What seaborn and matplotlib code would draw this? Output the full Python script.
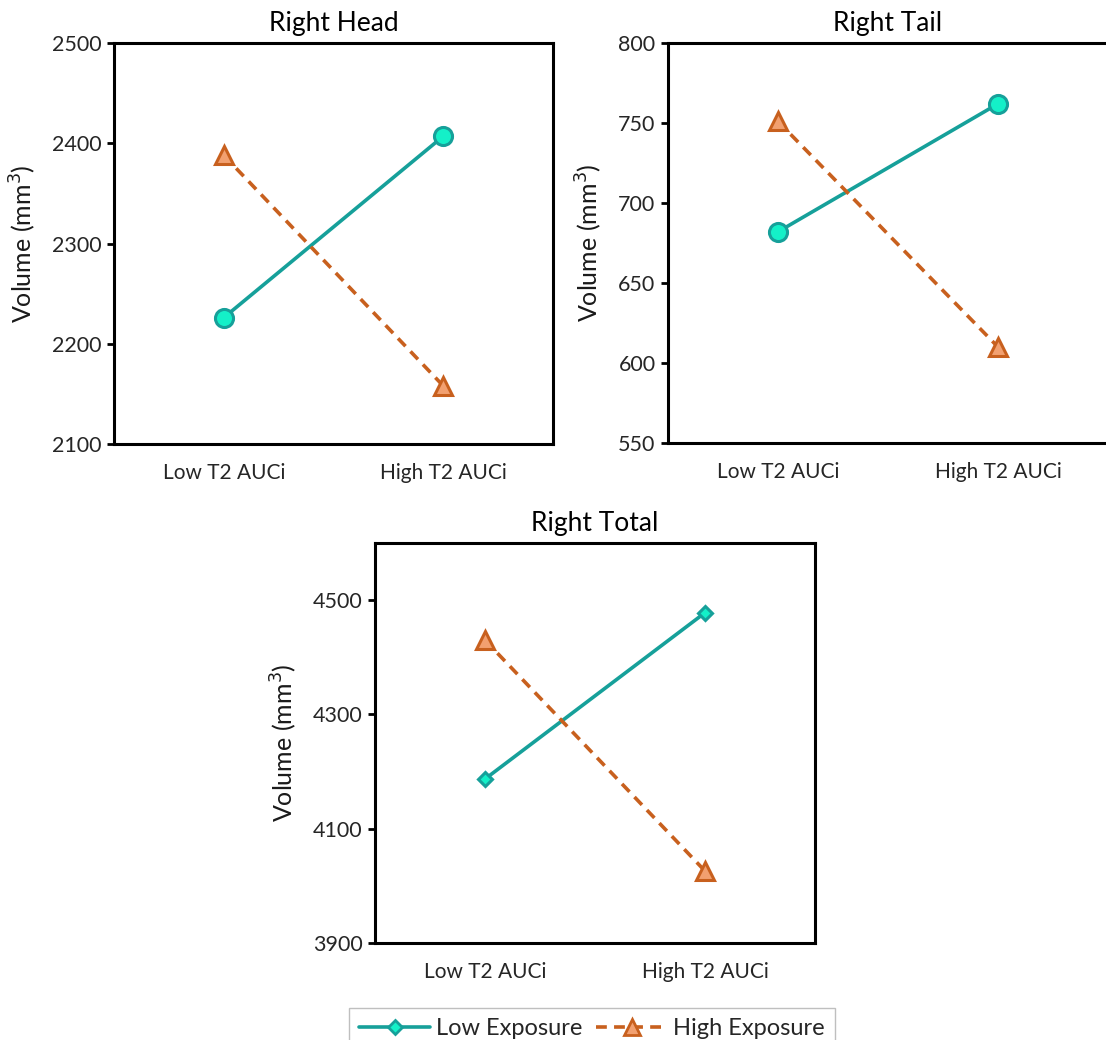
import numpy as np
import pandas as pd
import matplotlib.pyplot as plt
import seaborn as sns
from matplotlib.lines import Line2D

sns.set_theme(style='white')
plt.rcParams['font.family'] = ['Lato', 'DejaVu Sans']

# data
groups = ['Low T2 AUCi', 'High T2 AUCi']
head_low_exp = [2226, 2407]
head_high_exp = [2388, 2158]
tail_low_exp = [682, 762]
tail_high_exp = [751, 610]
total_low_exp = [4187, 4478]
total_high_exp = [4430, 4026]

teal = '#16A09A'
teal_face = '#14F0C8'
orange = '#C8601E'
orange_face = '#F2A070'

fig = plt.figure(figsize=(11.06, 10.4), dpi=100)

panels = [
    ('Right Head', head_low_exp, head_high_exp, (2100, 2500), np.arange(2100, 2501, 100),
     [114/1106, 1-444/1040, 439/1106, 401/1040], 'o'),
    ('Right Tail', tail_low_exp, tail_high_exp, (550, 800), np.arange(550, 801, 50),
     [668/1106, 1-443/1040, 440/1106, 400/1040], 'o'),
    ('Right Total', total_low_exp, total_high_exp, (3900, 4600), np.arange(3900, 4501, 200),
     [375/1106, 1-943/1040, 440/1106, 400/1040], 'D'),
]

for title, low, high, ylim, yticks, rect, mk in panels:
    ax = fig.add_axes(rect)
    df = pd.DataFrame({'group': groups * 2,
                       'volume': low + high,
                       'exposure': ['Low Exposure'] * 2 + ['High Exposure'] * 2})
    msize = 13 if mk == 'o' else 7.5
    sns.lineplot(data=df[df.exposure == 'Low Exposure'], x='group', y='volume', ax=ax,
                 color=teal, lw=2.6, marker=mk, markersize=msize,
                 markerfacecolor=teal_face, markeredgecolor=teal, markeredgewidth=2.2)
    sns.lineplot(data=df[df.exposure == 'High Exposure'], x='group', y='volume', ax=ax,
                 color=orange, lw=2.6, linestyle=(0, (3, 2)), marker='^', markersize=13,
                 markerfacecolor=orange_face, markeredgecolor=orange, markeredgewidth=2.2)
    ax.set_xlim(-0.5, 1.5)
    ax.set_ylim(*ylim)
    ax.set_yticks(yticks)
    ax.set_xticks([0, 1])
    ax.set_xticklabels(groups)
    ax.set_xticks([0.5], minor=True)
    ax.tick_params(axis='x', which='major', length=0, pad=14, labelsize=15, colors='#262626')
    ax.tick_params(axis='x', which='minor', length=5, width=2, direction='in', color='black')
    ax.tick_params(axis='y', length=5, width=2, direction='out', color='black',
                   labelsize=15.5, labelcolor='#262626', left=True, pad=4)
    for s in ax.spines.values():
        s.set_color('black')
        s.set_linewidth(2.2)
    ax.set_xlabel('')
    ax.set_ylabel('Volume (mm$^3$)', fontsize=18, color='#1A1A1A', labelpad=10)
    ax.set_title(title, fontsize=19, color='black', pad=9)

handles = [
    Line2D([], [], color=teal, lw=2.6, marker='D', markersize=7.5,
           markerfacecolor=teal_face, markeredgecolor=teal, markeredgewidth=2),
    Line2D([], [], color=orange, lw=2.6, linestyle=(0, (3, 2)), marker='^', markersize=12,
           markerfacecolor=orange_face, markeredgecolor=orange, markeredgewidth=2),
]
leg = fig.legend(handles, ['Low Exposure', 'High Exposure'], loc='upper center',
                 bbox_to_anchor=(592/1106, 1-996/1040), ncol=2, fancybox=False,
                 edgecolor='#BFBFBF', fontsize=17, handlelength=3.0, columnspacing=0.6,
                 handletextpad=0.25, borderpad=0.45, framealpha=1)
leg.get_frame().set_linewidth(1)

fig.savefig('out.png', dpi=100)
